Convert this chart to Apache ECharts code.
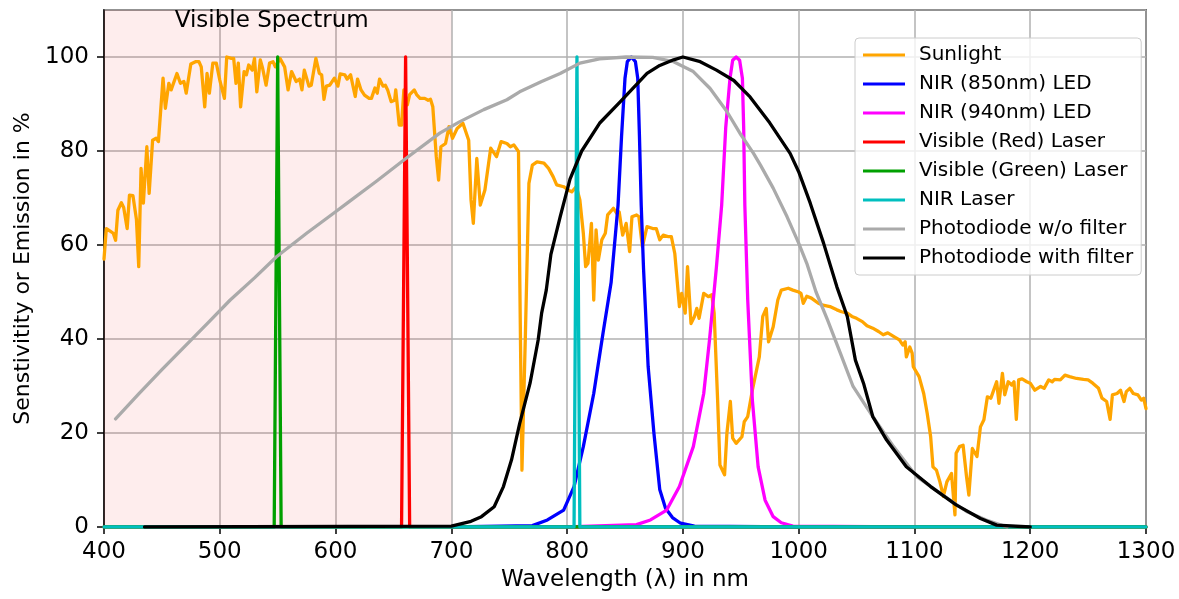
<!DOCTYPE html>
<html>
<head>
<meta charset="utf-8">
<script src="https://cdn.jsdelivr.net/npm/echarts@6/dist/echarts.min.js"></script>
<style>
html,body{margin:0;padding:0;background:#fff;}
#chart{width:1179px;height:599px;}
</style>
</head>
<body>
<div id="chart"></div>
<script>
// ---- Data: [wavelength nm, percent] ----
const sunlight = [[400,57],[402,63.5],[405,63],[408,62.5],[410,61],[412,67.4],[415,69],[417,68],[420,63.5],[422,70.6],[425,70.5],[428,65.5],[430,55.4],[432,76.3],[434,68.9],[437,80.9],[439,71],[442,82.3],[445,82.7],[447,82],[451,95.5],[453,89.1],[456,94.4],[458,93],[463,96.5],[466,94.4],[469,94.8],[471,92.3],[475,98.5],[479,99],[482,99],[484,97.9],[487,89.4],[489,96.5],[491,92.3],[494,98.7],[497,98.7],[500,95.1],[504,91.2],[506,100],[510,99.7],[512,99.7],[514,94.4],[516,98.7],[518,89.4],[521,96.9],[523,96.2],[525,98.3],[528,97.2],[530,99.7],[532,92.6],[535,99.4],[537,97.6],[540,94],[543,98.7],[546,99],[548,97.9],[552,99.7],[556,97.9],[559,93],[562,96.9],[566,94.8],[569,95.3],[571,93],[573,97.2],[577,93.8],[579,94],[583,99.7],[586,96.5],[588,96.2],[590,91],[592,93.8],[595,94],[599,95.5],[602,93.8],[604,96.4],[608,96.2],[610,95.3],[613,96.2],[617,91.6],[619,95.3],[622,93],[625,91.9],[629,91.2],[631,91.2],[634,93.4],[636,92.3],[638,95.3],[641,93.8],[643,94],[645,93],[648,90.5],[651,90.8],[652,93],[655,85.5],[657,85.5],[659,93],[662,89.8],[664,92],[668,93],[670,92],[673,91.2],[677,91.2],[680,90.8],[682,91],[684,89.4],[687,78.8],[689,73.8],[691,80.9],[695,81.6],[698,85.2],[701,82.7],[705,84.8],[710,85.9],[715,82.3],[717,69.6],[719,64.6],[722,78.4],[725,68.5],[729,71.7],[734,80.6],[739,78.8],[743,82],[748,81.6],[751,80.9],[754,81.3],[758,79.9],[759,55.4],[761,12.1],[764,41.2],[767,73.1],[770,77],[774,77.7],[780,77.4],[784,76.3],[788,74.5],[791,72.8],[797,72.4],[801,71.7],[804,71.3],[808,72.4],[811,69.6],[814,62.5],[816,55.4],[818,56.1],[821,64.6],[823,48.3],[825,63.2],[827,56.8],[830,61.1],[833,62.5],[835,66.4],[840,67.8],[843,66.7],[845,67],[848,62.1],[851,64.6],[854,58.6],[856,66],[860,66.4],[862,66],[865,59.6],[869,63.9],[874,63.5],[877,63.5],[880,61.1],[883,62.1],[887,61.8],[890,61.8],[893,58.2],[897,46.9],[899,49.7],[902,45.5],[904,55.4],[907,43.3],[910,44.8],[912,46.5],[914,44.4],[918,49.7],[922,49],[925,49.4],[927,45.5],[930,27],[932,13.2],[936,11.1],[938,19.9],[941,26.7],[943,18.9],[946,17.8],[951,19.2],[953,22.4],[956,23.5],[960,29.1],[966,36.2],[969,44.8],[972,46.5],[974,39.4],[978,42.6],[979,42.6],[982,48.3],[985,50.4],[991,50.8],[995,50.4],[1000,50],[1002,49.7],[1004,47.6],[1007,49.1],[1011,48.7],[1017,47.6],[1021,47.2],[1027,46.9],[1033,46.2],[1037,45.8],[1042,45.5],[1046,44.8],[1050,44.4],[1055,43.7],[1059,42.8],[1064,42.3],[1069,41.6],[1073,40.9],[1077,41.3],[1083,40.4],[1087,39.8],[1090,38.7],[1092,39.4],[1093,36.2],[1096,38.3],[1098,37],[1099,34.1],[1104,32],[1108,28.4],[1111,24.2],[1114,19.2],[1116,12.8],[1119,12.1],[1122,9.6],[1125,6.5],[1128,9.6],[1132,11.4],[1135,2.6],[1136,15.7],[1139,17.1],[1142,17.4],[1145,10.7],[1147,6.8],[1150,16.7],[1154,15],[1157,21.3],[1160,22.8],[1163,27.7],[1166,27.4],[1168,28.8],[1171,30.9],[1173,26.3],[1176,32.7],[1178,28.1],[1181,30.9],[1184,30.2],[1186,30.9],[1188,22.9],[1190,31.3],[1193,31.5],[1197,30.9],[1200,30.6],[1204,29.1],[1209,29.9],[1212,29.5],[1216,31.3],[1219,30.9],[1221,31.4],[1226,31.3],[1230,32.3],[1234,32],[1240,31.6],[1246,31.4],[1250,31.3],[1254,30.6],[1259,29.5],[1262,27.4],[1266,26.7],[1269,22.9],[1271,28.1],[1275,28.4],[1278,29.1],[1281,26.7],[1283,28.8],[1286,29.5],[1289,28.4],[1293,28.1],[1296,27],[1298,27.4],[1300,25.2]];

const led850 = [[700,0],[770,0.3],[783,1.5],[797,3.6],[806,8.6],[814,17.1],[823,28.4],[831,41.2],[838,52],[844,68.5],[847,83],[850,95.5],[852,99],[855.5,100],[859,99],[861,95.5],[862.5,83],[864,68.5],[866,55],[870,34.1],[875,19.9],[880,8],[885,4],[891,2],[898,0.8],[910,0.2],[1000,0]];

const led940 = [[800,0],[860,0.5],[872,1.5],[886,3.6],[897,8.6],[909,17.1],[918,28.4],[923,39.8],[929,55.4],[933.5,68.5],[937,85],[940.7,95.5],[943,99.3],[946,100],[949,99.3],[951.4,95.5],[952.5,85],[953.5,68.5],[956,48.3],[960,27],[965,12.8],[971,5.7],[978,2.2],[985,0.9],[995,0.2],[1100,0]];

const redLaser = [[400,0],[657,0],[660.5,100],[664,0],[1300,0]];
const greenLaser = [[400,0],[547,0],[550,100],[553,0],[1300,0]];
const nirLaser = [[400,0],[806,0],[808.5,100],[811,0],[1300,0]];

const photodiodeNoFilter = [[410,23],[430,28.3],[450,33.5],[470,38.5],[490,43.5],[509,48.3],[530,53],[549,57.5],[575,62.5],[598,66.7],[610,68.9],[635,73.5],[659,78.1],[690,83.8],[707,86.2],[728,88.8],[748,90.9],[759,92.6],[778,94.8],[794,96.5],[811,98.7],[828,99.6],[851,100],[874,99.9],[892,99],[909,96.9],[923.5,93.3],[938,88.4],[950,83.5],[961,79.5],[967,77],[978,72.1],[990,66],[1000,60.4],[1007,56.1],[1015,50],[1025,44],[1036,37],[1047,29.9],[1064,23.5],[1082,17.1],[1102,10.7],[1122,7.2],[1145,3.3],[1162,1.5],[1180,0]];

const photodiodeFilter = [[435,0],[700,0.2],[717,1.2],[726,2.2],[737,4.3],[745,8.6],[752,14.3],[759,22],[768,30.6],[775,39.8],[778,45.5],[782,50.4],[786,58],[794,66],[802.5,74],[812.6,80],[828,85.9],[846,90.5],[869,96.5],[880,98.2],[892,99.4],[900,100],[915,99],[929,97.2],[944,95],[958,91.5],[975,86],[992.6,79.5],[1000,75.6],[1010,68.9],[1021.5,60.4],[1033,51.1],[1042,44.8],[1049,35.5],[1056,30.6],[1064,23.5],[1076,18.5],[1093,12.8],[1114,8.6],[1136,4.7],[1157,1.8],[1171,0.4],[1200,0]];

const seriesNames = ['Sunlight','NIR (850nm) LED','NIR (940nm) LED','Visible (Red) Laser','Visible (Green) Laser','NIR Laser','Photodiode w/o filter','Photodiode with filter'];
const seriesColors = ['#FFA500','#0000FF','#FF00FF','#FF0000','#00A000','#00BFBF','#AAAAAA','#000000'];
const seriesData = [sunlight, led850, led940, redLaser, greenLaser, nirLaser, photodiodeNoFilter, photodiodeFilter];
const xTicks = {min:400, max:1300, interval:100};
const yTicks = {min:0, max:110, interval:20};
const visibleRange = [400, 700];

const FONT = 'DejaVu Sans';
const chart = echarts.init(document.getElementById('chart'), null, {renderer:'canvas'});

const series = seriesNames.map((name, i) => {
  const s = {
    name: name,
    type: 'line',
    data: seriesData[i],
    showSymbol: false,
    symbol: 'none',
    smooth: false,
    lineStyle: {color: seriesColors[i], width: 3.3, join: 'round', cap: 'round'},
    itemStyle: {color: seriesColors[i]},
    emphasis: {disabled: true},
    z: 2 + i
  };
  if (i === 0) {
    s.markArea = {
      silent: true,
      itemStyle: {color: 'rgba(245,60,60,0.09)'},
      label: {
        show: true, position: 'insideTop', distance: 0, offset: [-6, 0],
        formatter: 'Visible Spectrum', fontFamily: FONT, fontSize: 23, color: '#000'
      },
      data: [[{xAxis: visibleRange[0]}, {xAxis: visibleRange[1]}]]
    };
  }
  return s;
});

chart.setOption({
  animation: false,
  backgroundColor: '#fff',
  grid: {left: 104, right: 33, top: 10, bottom: 72, show: true, borderColor: '#000', borderWidth: 1.5, backgroundColor: 'transparent'},
  legend: {
    data: seriesNames,
    orient: 'vertical',
    left: 855, top: 38,
    padding: [6, 8, 6, 8],
    itemWidth: 42, itemHeight: 3, itemGap: 7,
    icon: 'rect',
    backgroundColor: 'rgba(255,255,255,0.8)',
    borderColor: '#cccccc', borderWidth: 1, borderRadius: 4,
    textStyle: {fontFamily: FONT, fontSize: 20, color: '#000', lineHeight: 22, padding: [0,0,0,9]},
    selectedMode: false
  },
  xAxis: {
    type: 'value', min: xTicks.min, max: xTicks.max, interval: xTicks.interval,
    name: 'Wavelength (λ) in nm', nameLocation: 'middle', nameGap: 42,
    nameTextStyle: {fontFamily: FONT, fontSize: 23, color: '#000'},
    axisLine: {show: true, onZero: false, lineStyle: {color: '#000', width: 1.5}},
    axisTick: {show: true, length: 7, lineStyle: {color: '#000', width: 1.5}},
    axisLabel: {fontFamily: FONT, fontSize: 23, color: '#000', margin: 14, formatter: v => String(v)},
    splitLine: {show: true, lineStyle: {color: '#b0b0b0', width: 1.5}}
  },
  yAxis: {
    type: 'value', min: yTicks.min, max: yTicks.max, interval: yTicks.interval,
    name: 'Senstivitity or Emission in %', nameLocation: 'middle', nameGap: 70,
    nameTextStyle: {fontFamily: FONT, fontSize: 22, color: '#000'},
    axisLine: {show: true, lineStyle: {color: '#000', width: 1.5}},
    axisTick: {show: true, length: 7, lineStyle: {color: '#000', width: 1.5}},
    axisLabel: {fontFamily: FONT, fontSize: 23, color: '#000', margin: 15, showMaxLabel: false, formatter: v => String(v)},
    splitLine: {show: true, lineStyle: {color: '#b0b0b0', width: 1.5}}
  },
  series: series
});
</script>
</body>
</html>
